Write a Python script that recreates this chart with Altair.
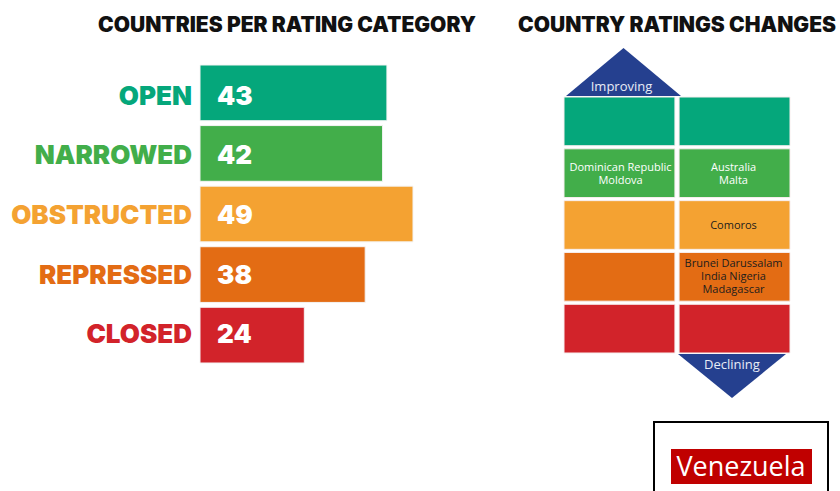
import altair as alt
import pandas as pd

# ---------------- data ----------------
categories = ["OPEN", "NARROWED", "OBSTRUCTED", "REPRESSED", "CLOSED"]
counts = [43, 42, 49, 38, 24]
cat_colors = ["#05A77B", "#42AE4A", "#F4A232", "#E36C14", "#D2232A"]

sides = ["Improving", "Declining"]
improving_names = ["", "Dominican Republic\nMoldova", "", "", ""]
declining_names = ["", "Australia\nMalta", "Comoros",
                   "Brunei Darussalam\nIndia Nigeria\nMadagascar", ""]
highlight = ["Venezuela"]

title_left = "COUNTRIES PER RATING CATEGORY"
title_right = "COUNTRY RATINGS CHANGES"

# ---------------- tables ----------------
bars_df = pd.DataFrame({"category": categories, "count": counts})
grid_df = pd.DataFrame({
    "category": categories * 2,
    "side": ["Improving"] * 5 + ["Declining"] * 5,
    "names": improving_names + declining_names,
})
arrow_df = pd.DataFrame({"side": sides})
hl_df = pd.DataFrame({"country": highlight})

TITLE_FONT = "Inter"
BODY_FONT = "Open Sans"

color_cat = alt.Color("category:N",
                      scale=alt.Scale(domain=categories, range=cat_colors),
                      legend=None)

# ---------------- left panel: bars ----------------
y_bar = alt.Y("category:N", sort=None,
              scale=alt.Scale(domain=categories, range=[65, 363],
                              paddingInner=0.08, paddingOuter=0),
              axis=None)
x_bar = alt.X("count:Q",
              scale=alt.Scale(domain=[0, 49], range=[200, 413], nice=False, zero=True),
              axis=None)

bars = alt.Chart(bars_df).mark_bar(stroke="#f4f4f4", strokeWidth=1).encode(
    y=y_bar, x=x_bar, color=color_cat)

values = alt.Chart(bars_df).mark_text(
    align="left", baseline="middle", font=TITLE_FONT, fontSize=26,
    fontWeight=900, color="white", dy=2
).encode(y=y_bar, x=alt.value(217), text="count:Q")

cat_labels = alt.Chart(bars_df).mark_text(
    align="right", baseline="middle", font=TITLE_FONT, fontSize=26,
    fontWeight=900, dy=2
).encode(y=y_bar, x=alt.value(192), text="category:N", color=color_cat)

# ---------------- titles ----------------
t_left = alt.Chart(pd.DataFrame({"t": [title_left]})).mark_text(
    align="center", baseline="alphabetic", font=TITLE_FONT, fontSize=21,
    fontWeight=900, color="#111111"
).encode(x=alt.value(287), y=alt.value(32), text="t:N")

t_right = alt.Chart(pd.DataFrame({"t": [title_right]})).mark_text(
    align="center", baseline="alphabetic", font=TITLE_FONT, fontSize=21,
    fontWeight=900, color="#111111"
).encode(x=alt.value(677), y=alt.value(32), text="t:N")

# ---------------- right panel: ratings changes grid ----------------
x_grid = alt.X("side:N", sort=None,
               scale=alt.Scale(domain=sides, range=[564, 790],
                               paddingInner=0.036, paddingOuter=0),
               axis=None)
y_grid = alt.Y("category:N", sort=None,
               scale=alt.Scale(domain=categories, range=[97, 353],
                               paddingInner=0.06, paddingOuter=0),
               axis=None)

cells = alt.Chart(grid_df).mark_rect(stroke="#f7eeee", strokeWidth=1).encode(
    x=x_grid, y=y_grid, color=color_cat)

LH = 13
text_layers = []
for n in (1, 2, 3):
    text_layers.append(
        alt.Chart(grid_df).transform_filter(
            "datum.names != ''"
        ).transform_calculate(
            nlines="split(datum.names, '\\n').length"
        ).transform_filter(
            f"datum.nlines == {n}"
        ).mark_text(
            font=BODY_FONT, fontSize=11, lineBreak="\n", lineHeight=LH,
            align="center", baseline="middle", dy=-(n - 1) * LH / 2 + 1
        ).encode(
            x=x_grid, y=y_grid, text="names:N",
            color=alt.condition(
                "datum.category == 'OPEN' || datum.category == 'NARROWED'",
                alt.value("white"), alt.value("#1c1c1c")))
    )

up_path = "M-1,0.4174L0,-0.4174L1,0.4174Z"
down_path = "M-1,-0.4074L1,-0.4074L0,0.4074Z"
ARROW = "#25408F"

up_tri = alt.Chart(arrow_df).transform_filter("datum.side == 'Improving'").mark_point(
    shape=up_path, size=13225, filled=True, opacity=1, color=ARROW,
    strokeWidth=0, xOffset=3
).encode(x=x_grid, y=alt.value(72))

down_tri = alt.Chart(arrow_df).transform_filter("datum.side == 'Declining'").mark_point(
    shape=down_path, size=11664, filled=True, opacity=1, color=ARROW,
    strokeWidth=0, xOffset=-1.5
).encode(x=x_grid, y=alt.value(376))

up_txt = alt.Chart(arrow_df).transform_filter("datum.side == 'Improving'").mark_text(
    font=BODY_FONT, fontSize=13, color="#e8ecf6", baseline="middle", xOffset=1
).encode(x=x_grid, y=alt.value(87), text="side:N")

down_txt = alt.Chart(arrow_df).transform_filter("datum.side == 'Declining'").mark_text(
    font=BODY_FONT, fontSize=13, color="#e8ecf6", baseline="middle", xOffset=-1.5
).encode(x=x_grid, y=alt.value(365), text="side:N")

# ---------------- highlight box ----------------
hl_box = alt.Chart(hl_df).mark_rect(fill="white", stroke="black", strokeWidth=2).encode(
    x=alt.value(654), x2=alt.value(828), y=alt.value(422), y2=alt.value(530))
hl_bg = alt.Chart(hl_df).mark_rect(color="#C00000").encode(
    x=alt.value(671), x2=alt.value(812), y=alt.value(449), y2=alt.value(484))
hl_txt = alt.Chart(hl_df).mark_text(
    font=BODY_FONT, fontSize=27, color="white", align="center", baseline="alphabetic"
).encode(x=alt.value(741), y=alt.value(476), text="country:N")

chart = alt.layer(
    t_left, t_right,
    bars, values, cat_labels,
    cells, *text_layers,
    up_tri, down_tri, up_txt, down_txt,
    hl_box, hl_bg, hl_txt,
).resolve_scale(
    x="independent", y="independent", color="independent"
).properties(
    width=840, height=491, padding=0, autosize="none", background="white"
).configure_view(stroke=None)

chart.save("out.html", embed_options={"renderer": "svg", "actions": False})
